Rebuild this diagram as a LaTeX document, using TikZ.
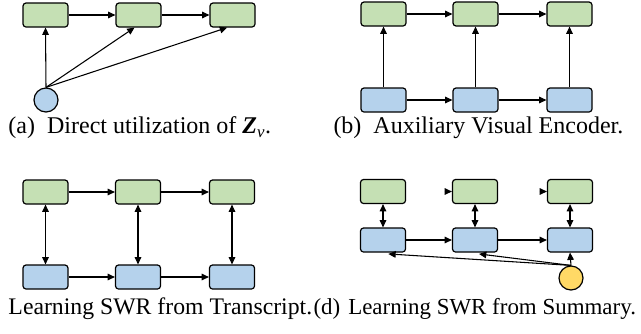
\documentclass[tikz,border=0pt]{standalone}
\usepackage{fontspec}
\setmainfont{Liberation Serif}
\usetikzlibrary{arrows.meta}

\definecolor{boxgreen}{RGB}{197,224,180}
\definecolor{boxblue}{RGB}{181,210,236}
\definecolor{boxyellow}{RGB}{255,217,102}

\tikzset{every picture/.style={line width=0.75pt}}

\begin{document}
\begin{tikzpicture}[x=0.75pt,y=0.75pt,yscale=-1,xscale=1,
  outbox/.style={draw,line width=0.9pt,rounded corners=2.25pt,fill=boxgreen,minimum width=33.75pt,minimum height=18pt,inner sep=0pt},
  encbox/.style={outbox,fill=boxblue},
  feat/.style={draw,circle,line width=0.9pt,minimum size=18pt,inner sep=0pt},
  link/.style={line width=0.8pt,-{Triangle[length=5.5pt,width=5pt]}},
  dlink/.style={line width=0.8pt,{Triangle[length=5.5pt,width=5pt]}-{Triangle[length=5.5pt,width=5pt]}},
  capt/.style={anchor=west,inner sep=0pt,font=\fontsize{18}{20}\selectfont}]
	\useasboundingbox (0,0) rectangle (641,333);

	% (a) direct utilization
	\node [outbox] (a1) at (45.5,15) {};
	\node [outbox] (a2) at (138.5,15) {};
	\node [outbox] (a3) at (232.5,15) {};
	\node [feat,fill=boxblue] (av) at (46,100) {};
	\draw [link] (a1) -- (a2);
	\draw [link] (a2) -- (a3);
	\draw [link] (av.north) -- (a1.south);
	\draw [link] (av.north) -- ([xshift=-3]a2.south);
	\draw [link] (av.north) -- ([xshift=-4]a3.south);

	% (b) auxiliary visual encoder
	\node [outbox] (b1) at (383.5,14) {};
	\node [outbox] (b2) at (475.5,14) {};
	\node [outbox] (b3) at (569.5,14) {};
	\node [encbox] (e1) at (383.5,100) {};
	\node [encbox] (e2) at (475.5,100) {};
	\node [encbox] (e3) at (569.5,100) {};
	\draw [link] (b1) -- (b2);
	\draw [link] (b2) -- (b3);
	\draw [link] (e1) -- (e2);
	\draw [link] (e2) -- (e3);
	\draw [link] (e1) -- (b1);
	\draw [link] (e2) -- (b2);
	\draw [link] (e3) -- (b3);

	% (c) SWR from transcript
	\node [outbox] (c1) at (45.5,192) {};
	\node [outbox] (c2) at (138,192) {};
	\node [outbox] (c3) at (232,192) {};
	\node [encbox] (t1) at (45.5,277) {};
	\node [encbox] (t2) at (138,277) {};
	\node [encbox] (t3) at (232,277) {};
	\draw [link] (c1) -- (c2);
	\draw [link] (c2) -- (c3);
	\draw [link] (t1) -- (t2);
	\draw [link] (t2) -- (t3);
	\draw [dlink] (c1) -- (t1);
	\draw [dlink] (c2) -- (t2);
	\draw [dlink] (c3) -- (t3);

	% (d) SWR from summary
	\node [outbox] (d1) at (383,191.5) {};
	\node [outbox] (d2) at (475,191.5) {};
	\node [outbox] (d3) at (570,191.5) {};
	\node [encbox] (s1) at (383,240) {};
	\node [encbox] (s2) at (475,240) {};
	\node [encbox] (s3) at (570,240) {};
	\node [feat,fill=boxyellow] (sv) at (571,278) {};
	\coordinate (d2in) at ([xshift=-5.5pt]d2.west);
	\coordinate (d3in) at ([xshift=-5.5pt]d3.west);
	\draw [link] (d2in) -- (d2.west);
	\draw [link] (d3in) -- (d3.west);
	\draw [link] (s1) -- (s2);
	\draw [link] (s2) -- (s3);
	\draw [dlink] (d1) -- (s1);
	\draw [dlink] (d2) -- (s2);
	\draw [dlink] (d3) -- (s3);
	\draw [link] (sv.north) -- (s3.south);
	\draw [link] (sv.north) -- ([xshift=4,yshift=1]s1.south);
	\draw [link] (sv.north) -- ([xshift=3,yshift=1]s2.south);

	% captions
	\node [capt] (capa) at (8,128) {(a)\hspace{0.5em}Direct utilization of \textbf{\textit{Z}}\textsubscript{\textit{v}}.};
	\node [capt] (capb) at (333,128) {(b)\hspace{0.5em}Auxiliary Visual Encoder.};
	\node [capt,font=\fontsize{17.8}{20}\selectfont] (capc) at (8,309) {Learning SWR from Transcript.};
	\node [capt,font=\fontsize{17.2}{20}\selectfont] (capd) at (313,309) {(d)\hspace{0.35em}Learning SWR from Summary.};

\end{tikzpicture}
\end{document}
